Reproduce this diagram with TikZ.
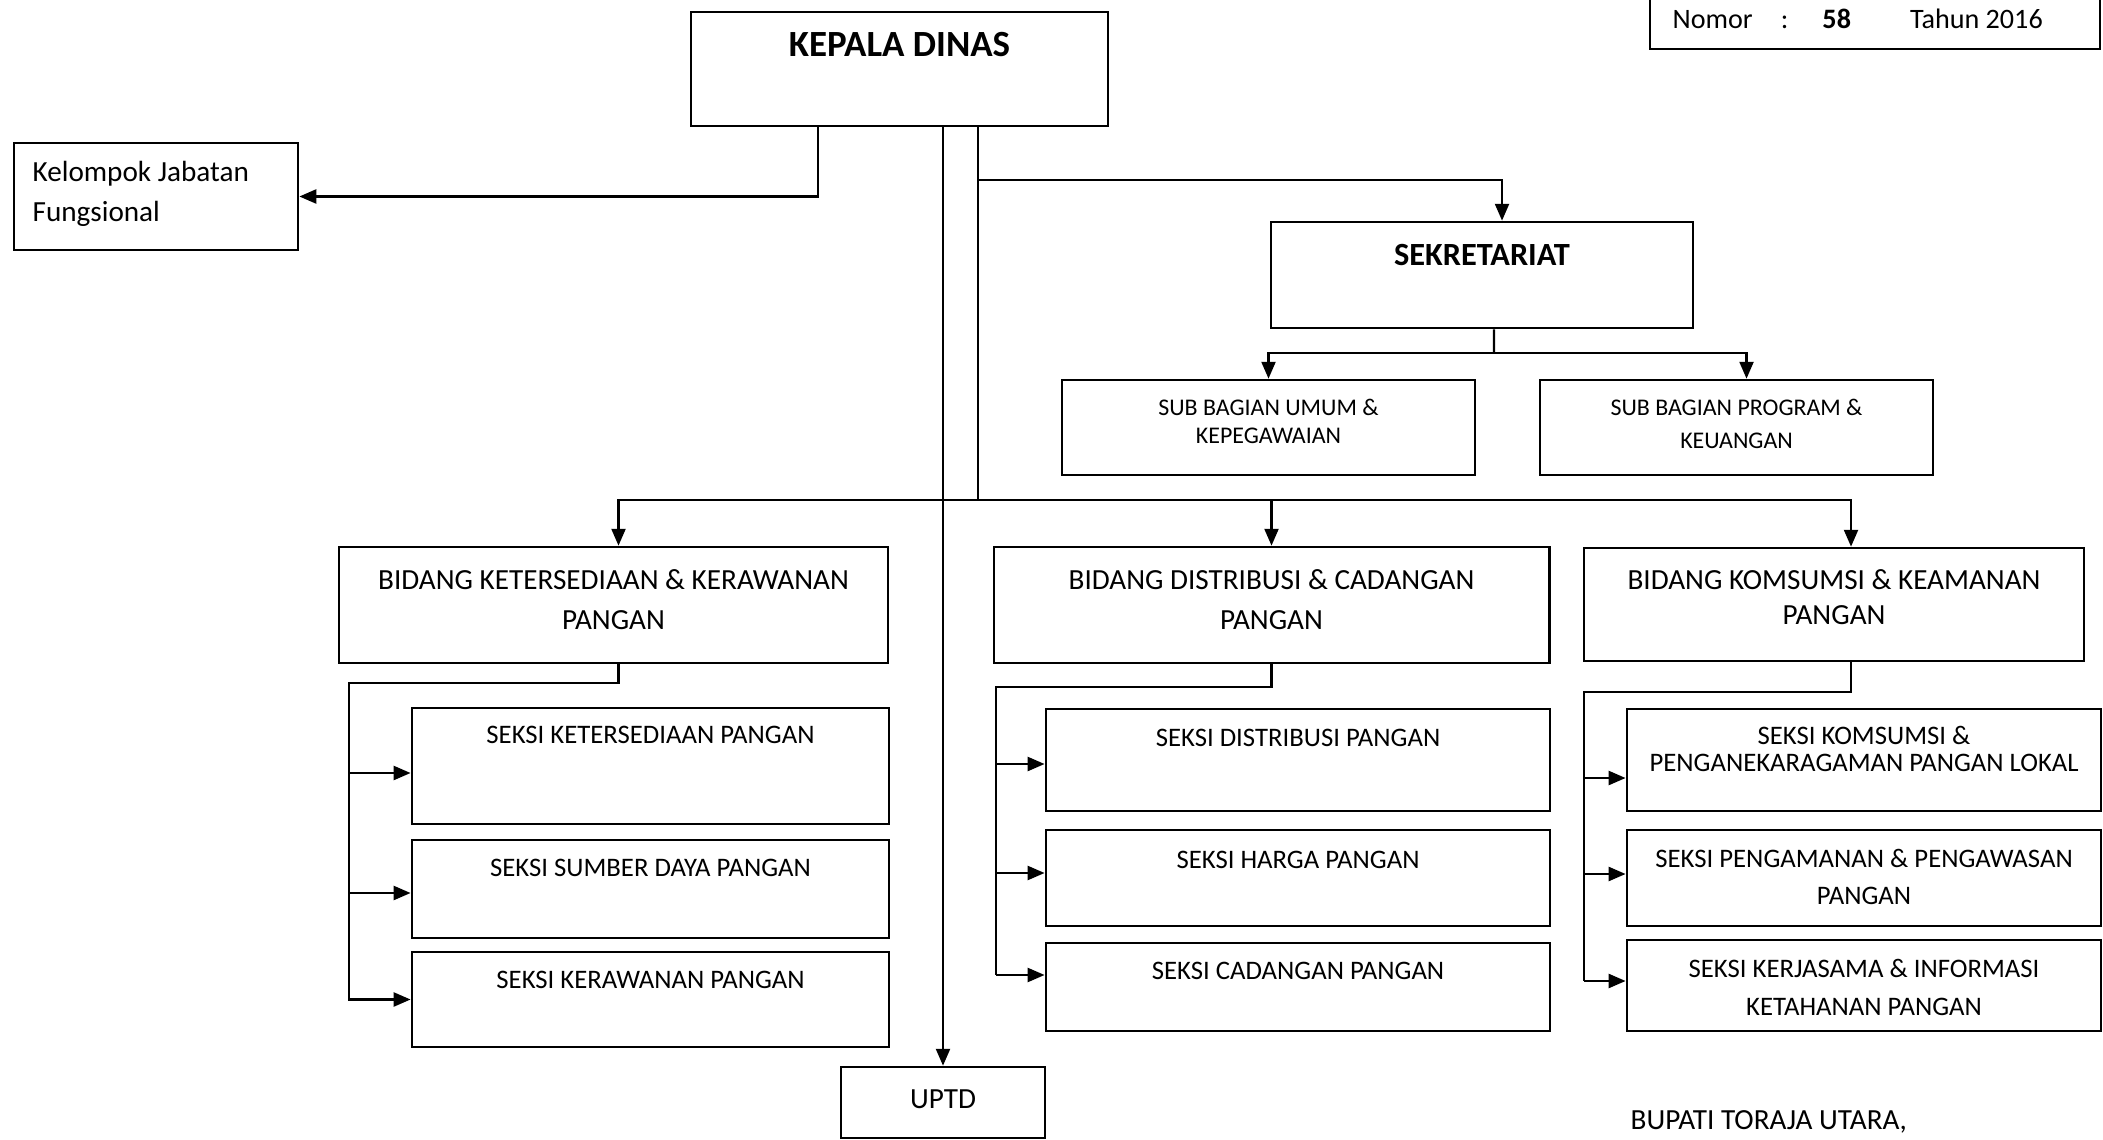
\documentclass[tikz,border=0pt]{standalone}
\usepackage{fontspec}
\setmainfont{Carlito}
\usetikzlibrary{arrows.meta}

\newcommand{\fsbig}{\fontsize{10.5}{12.6}\selectfont\bfseries}
\newcommand{\fssek}{\fontsize{9.2}{11}\selectfont\bfseries}
\newcommand{\fsnorm}{\fontsize{8.3}{11.4}\selectfont}
\newcommand{\fsseksi}{\fontsize{7.6}{10.6}\selectfont}
\newcommand{\fssub}{\fontsize{6.8}{8.6}\selectfont}

\tikzset{
  box/.style={draw, line width=0.75pt, inner sep=0pt},
  link/.style={line width=0.6pt},
  arr/.style={link, -{Triangle[length=4.8pt,width=4pt]}},
  lab/.style={inner sep=0pt, align=center, anchor=north},
}

\begin{document}
\begin{tikzpicture}[x=0.01cm,y=-0.01cm]
  \useasboundingbox (0,0) rectangle (2103,1140);

  % nomor
  \node[box, minimum width=4.5cm, minimum height=0.69cm,
    label={[lab, anchor=north west, xshift=-2.03cm, yshift=-0.3cm, font={\fontsize{8}{10}\selectfont}]north:{Nomor\hspace{8pt}:\hspace{9.7pt}\textbf{58}\hspace{16.8pt}Tahun 2016}}]
    (nomor) at (1875,14.5) {};

  % kepala dinas
  \node[box, minimum width=4.17cm, minimum height=1.14cm,
    label={[lab, yshift=-0.21cm, font=\fsbig]north:KEPALA DINAS}] (kadis) at (899.5,69) {};
  \node[box, minimum width=2.84cm, minimum height=1.07cm,
    label={[lab, align=left, anchor=north west, xshift=-1.24cm, yshift=-0.19cm, font=\fsnorm]north:{Kelompok Jabatan\\Fungsional}}] (jaf) at (156,196.5) {};

  % sekretariat
  \node[box, minimum width=4.22cm, minimum height=1.06cm,
    label={[lab, yshift=-0.23cm, font=\fssek]north:SEKRETARIAT}] (sekr) at (1482,275) {};
  \node[box, minimum width=4.13cm, minimum height=0.95cm,
    label={[lab, yshift=-0.2cm, font={\fontsize{6.8}{7.9}\selectfont}]north:{SUB BAGIAN UMUM \&\\KEPEGAWAIAN}}] (sub1) at (1268.5,427.5) {};
  \node[box, minimum width=3.93cm, minimum height=0.95cm,
    label={[lab, yshift=-0.2cm, font={\fontsize{6.8}{9.4}\selectfont}]north:{SUB BAGIAN PROGRAM \&\\KEUANGAN}}] (sub2) at (1736.5,427.5) {};

  % bidang
  \node[box, minimum width=5.49cm, minimum height=1.16cm,
    label={[lab, yshift=-0.23cm, font=\fsnorm]north:{BIDANG KETERSEDIAAN \& KERAWANAN\\PANGAN}}] (bid1) at (613.5,605) {};
  \node[box, minimum width=5.55cm, minimum height=1.16cm,
    label={[lab, yshift=-0.23cm, font=\fsnorm]north:{BIDANG DISTRIBUSI \& CADANGAN\\PANGAN}}] (bid2) at (1271.5,605) {};
  \node[box, minimum width=5.0cm, minimum height=1.13cm,
    label={[lab, yshift=-0.22cm, font={\fontsize{8.3}{10}\selectfont}]north:{BIDANG KOMSUMSI \& KEAMANAN\\PANGAN}}] (bid3) at (1834,604.5) {};

  % seksi
  \node[box, minimum width=4.77cm, minimum height=1.16cm,
    label={[lab, yshift=-0.19cm, font=\fsseksi]north:SEKSI KETERSEDIAAN PANGAN}] (s11) at (650.5,766) {};
  \node[box, minimum width=4.77cm, minimum height=0.98cm,
    label={[lab, yshift=-0.2cm, font=\fsseksi]north:SEKSI SUMBER DAYA PANGAN}] (s12) at (650.5,889) {};
  \node[box, minimum width=4.77cm, minimum height=0.95cm,
    label={[lab, yshift=-0.2cm, font=\fsseksi]north:SEKSI KERAWANAN PANGAN}] (s13) at (650.5,999.5) {};
  \node[box, minimum width=5.04cm, minimum height=1.02cm,
    label={[lab, yshift=-0.21cm, font=\fsseksi]north:SEKSI DISTRIBUSI PANGAN}] (s21) at (1298,760) {};
  \node[box, minimum width=5.04cm, minimum height=0.96cm,
    label={[lab, yshift=-0.22cm, font=\fsseksi]north:SEKSI HARGA PANGAN}] (s22) at (1298,878) {};
  \node[box, minimum width=5.04cm, minimum height=0.88cm,
    label={[lab, yshift=-0.2cm, font=\fsseksi]north:SEKSI CADANGAN PANGAN}] (s23) at (1298,987) {};
  \node[box, minimum width=4.74cm, minimum height=1.02cm,
    label={[lab, yshift=-0.18cm, font={\fontsize{7.6}{7.7}\selectfont}]north:{SEKSI KOMSUMSI \&\\PENGANEKARAGAMAN PANGAN LOKAL}}] (s31) at (1864,760) {};
  \node[box, minimum width=4.74cm, minimum height=0.96cm,
    label={[lab, yshift=-0.2cm, font={\fontsize{7.6}{10.5}\selectfont}]north:{SEKSI PENGAMANAN \& PENGAWASAN\\PANGAN}}] (s32) at (1864,878) {};
  \node[box, minimum width=4.74cm, minimum height=0.91cm,
    label={[lab, yshift=-0.2cm, font={\fontsize{7.6}{10.8}\selectfont}]north:{SEKSI KERJASAMA \& INFORMASI\\KETAHANAN PANGAN}}] (s33) at (1864,985.5) {};

  % uptd
  \node[box, minimum width=2.04cm, minimum height=0.71cm,
    label={[lab, yshift=-0.23cm, font=\fsnorm]north:UPTD}] (uptd) at (943,1102.5) {};
  \node[anchor=north west, inner sep=0pt, font=\fsnorm] (bupati) at (1630,1110) {BUPATI TORAJA UTARA,};

  % lines from kepala dinas
  \coordinate (trunk) at (978,180);
  \coordinate (bidbus) at (978,500);
  \draw[arr] ([xshift=-0.815cm]kadis.south) |- (jaf.east);
  \draw[arr] (uptd.north |- kadis.south) -- (uptd.north);
  \draw[arr] (trunk |- kadis.south) -- (trunk) -| ([xshift=0.2cm]sekr.north);
  \draw[link] (trunk) -- (bidbus);

  % sekretariat
  \coordinate (subbus) at (1494,353);
  \draw[link] ([xshift=0.12cm]sekr.south) -- (subbus);
  \draw[arr] (subbus) -| (sub1.north);
  \draw[arr] (subbus) -| ([xshift=0.1cm]sub2.north);

  % bidang
  \draw[arr] (bidbus) -| ([xshift=0.05cm]bid1.north);
  \draw[arr] (bidbus) -| (bid2.north);
  \draw[arr] (bidbus) -| ([xshift=0.17cm]bid3.north);

  % seksi
  \coordinate (sp1) at (349,683);
  \coordinate (sp1e) at (349,1001);
  \coordinate (sp2) at (996,687);
  \coordinate (sp2e) at (996,975);
  \coordinate (sp3) at (1584,692);
  \coordinate (sp3e) at (1584,981);
  \draw[link] ([xshift=0.05cm]bid1.south) |- (sp1) -- (sp1e);
  \draw[link] (bid2.south) |- (sp2) -- (sp2e);
  \draw[link] ([xshift=0.17cm]bid3.south) |- (sp3) -- (sp3e);
  \foreach \s/\d/\sp in {s11/-0.07/sp1, s12/-0.04/sp1, s13/0/sp1,
                         s21/-0.04/sp2, s22/0.05/sp2, s23/0.12/sp2,
                         s31/-0.18/sp3, s32/0.04/sp3, s33/0.045/sp3} {
    \coordinate (in) at ([yshift=\d cm]\s.west);
    \draw[arr] (\sp |- in) -- (in);
  }
\end{tikzpicture}
\end{document}
